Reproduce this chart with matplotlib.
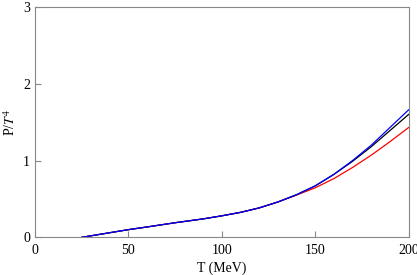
import numpy as np
import matplotlib as mpl
mpl.use('Agg')
import matplotlib.pyplot as plt

plt.rcParams.update({
    "font.family": "serif",
    "font.serif": ["Liberation Serif", "DejaVu Serif"],
    "mathtext.fontset": "stix",
    "font.size": 10,
})

# P/T^4 vs T
T = [25, 40, 50, 60, 75, 90, 100, 110, 120, 130, 140, 150, 160, 170, 180, 190, 200]
p_blue = [0, 0.06, 0.10, 0.135, 0.19, 0.24, 0.28, 0.325, 0.383, 0.46, 0.555, 0.67, 0.82, 1.00, 1.20, 1.43, 1.66]
p_black = [0, 0.06, 0.10, 0.135, 0.19, 0.24, 0.28, 0.325, 0.383, 0.46, 0.555, 0.67, 0.82, 0.99, 1.18, 1.39, 1.60]
p_red = [0, 0.06, 0.10, 0.135, 0.19, 0.24, 0.28, 0.325, 0.383, 0.46, 0.55, 0.645, 0.765, 0.91, 1.07, 1.245, 1.43]

fig = plt.figure(figsize=(4.17, 2.75), dpi=100)
ax = fig.add_axes([0.084, 0.137, 0.896, 0.838])
ax.plot(T, p_red, color='red', lw=0.9)
ax.plot(T, p_black, color='black', lw=0.9)
ax.plot(T, p_blue, color='blue', lw=0.9)

ax.set_xlim(0, 200)
ax.set_ylim(0, 3)
ax.set_xticks([0, 50, 100, 150, 200])
ax.set_yticks([0, 1, 2, 3])
ax.set_xlabel("T (MeV)", labelpad=3)
ax.set_ylabel(r"P/$T^4$")
for s in ax.spines.values():
    s.set_color('#888888')
ax.tick_params(direction='in', length=4, color='#888888', top=False, right=False)
ax.tick_params(axis='x', pad=5)

plt.savefig("out.png", dpi=100)
plt.close()
